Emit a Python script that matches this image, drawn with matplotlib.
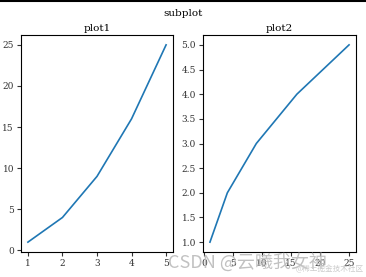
import matplotlib.pyplot as plt
from matplotlib.lines import Line2D

# data
x1 = [1, 2, 3, 4, 5]
y1 = [1, 4, 9, 16, 25]
x2 = [1, 4, 9, 16, 25]
y2 = [1, 2, 3, 4, 5]

plt.rcParams['font.family'] = ['DejaVu Serif']
plt.rcParams['font.size'] = 7

fig = plt.figure(figsize=(3.66, 2.77), dpi=100)
W, H = 366, 277
ax1 = fig.add_axes([21 / W, 1 - 252 / H, 152 / W, 217 / H])
ax2 = fig.add_axes([203 / W, 1 - 252 / H, 153 / W, 217 / H])

ax1.plot(x1, y1, lw=1.2)
ax1.set_title("plot1", fontsize=7.5, pad=3)
ax1.set_xticks([1, 2, 3, 4, 5])
ax1.set_yticks([0, 5, 10, 15, 20, 25])

ax2.plot(x2, y2, lw=1.2)
ax2.set_title("plot2", fontsize=7.5, pad=3)
ax2.set_xticks([0, 5, 10, 15, 20, 25])
ax2.set_yticks([1.0, 1.5, 2.0, 2.5, 3.0, 3.5, 4.0, 4.5, 5.0])

for ax in (ax1, ax2):
    ax.tick_params(labelsize=6.5, length=3, pad=2, colors='#333333', labelcolor='#333333')
    for s in ax.spines.values():
        s.set_linewidth(0.8)

fig.suptitle("subplot", fontsize=7.5, y=1 - 13 / H, va='center')

# border line at the top of the screenshot
fig.add_artist(Line2D([0, 1], [0.997, 0.997], transform=fig.transFigure, color='black', lw=1.5))

# watermark
fig.text(168 / W, 1 - 262 / H, "CSDN @云曦我女神", fontsize=13, color='#bbbbbb',
         family=['Noto Sans CJK SC', 'DejaVu Sans'], va='center', alpha=0.9)
fig.text(296 / W, 1 - 269 / H, "@稀土掘金技术社区", fontsize=5.5, color='#cccccc',
         family=['Noto Sans CJK SC', 'DejaVu Sans'], va='center')

fig.savefig("out.png", dpi=100)
